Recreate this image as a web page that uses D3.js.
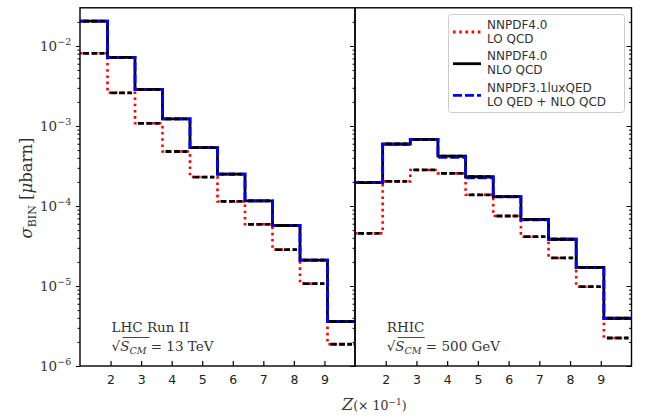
<!DOCTYPE html>
<html>
<head>
<meta charset="utf-8">
<script src="https://cdn.jsdelivr.net/npm/d3@7"></script>
<style>
  body { margin: 0; background: #fff; }
</style>
</head>
<body>
<div id="chart"></div>
<script>
// Bin edges in z (x 10^-1)
var edges = [1, 1.9, 2.8, 3.7, 4.6, 5.5, 6.4, 7.3, 8.2, 9.1, 10];

// LHC Run II, 13 TeV
var lhcLO  = [8.1e-3, 2.6e-3, 1.08e-3, 4.8e-4, 2.3e-4, 1.14e-4, 5.9e-5, 2.85e-5, 1.07e-5, 1.87e-6];
var lhcNLO = [2.04e-2, 7.2e-3, 2.87e-3, 1.23e-3, 5.35e-4, 2.5e-4, 1.16e-4, 5.7e-5, 2.11e-5, 3.6e-6];
var lhcQED = [2.04e-2, 7.2e-3, 2.87e-3, 1.23e-3, 5.35e-4, 2.5e-4, 1.16e-4, 5.7e-5, 2.11e-5, 3.6e-6];

// RHIC, 500 GeV
var rhicLO  = [4.55e-5, 2.03e-4, 2.82e-4, 2.56e-4, 1.38e-4, 7.5e-5, 4.13e-5, 2.24e-5, 9.8e-6, 2.24e-6];
var rhicNLO = [1.96e-4, 5.95e-4, 6.8e-4, 4.2e-4, 2.32e-4, 1.31e-4, 6.8e-5, 3.84e-5, 1.71e-5, 3.95e-6];
var rhicQED = [1.96e-4, 5.9e-4, 6.75e-4, 4.05e-4, 2.25e-4, 1.3e-4, 6.7e-5, 3.84e-5, 1.7e-5, 3.9e-6];

var xTicks = [2, 3, 4, 5, 6, 7, 8, 9];
var yDecades = [1e-6, 1e-5, 1e-4, 1e-3, 1e-2];
var yExps = ["\u22126", "\u22125", "\u22124", "\u22123", "\u22122"];

var legendTop = ["NNPDF4.0", "NNPDF4.0", "NNPDF3.1luxQED"];
var legendBottom = ["LO QCD", "NLO QCD", "LO QED + NLO QCD"];

var svgWidth = 647;
var svgHeight = 418;
var plotTop = 7.8, plotBottom = 366;

var svg = d3.select("#chart")
  .append("svg")
  .attr("width", svgWidth)
  .attr("height", svgHeight)
  .style("font-family", "DejaVu Sans, sans-serif");

var yScale = d3.scaleLog()
  .domain([1e-6, 0.03])
  .range([plotBottom, plotTop]);

var panels = [
  {x0: 80, x1: 355, lo: lhcLO, nlo: lhcNLO, qed: lhcQED, name: "LHC Run II", energy: "13 TeV"},
  {x0: 355, x1: 631.5, lo: rhicLO, nlo: rhicNLO, qed: rhicQED, name: "RHIC", energy: "500 GeV"}
];

var minorTicks = [];
yDecades.forEach(function(d) {
  for (var k = 2; k <= 9; k++) {
    if (d * k < 0.03) minorTicks.push(d * k);
  }
});

panels.forEach(function(p, pi) {
  var xScale = d3.scaleLinear().domain([1, 10]).range([p.x0, p.x1]);

  var g = svg.append("g");

  function stepPath(vals) {
    var pts = edges.map(function(e, i) {
      return [e, vals[Math.min(i, vals.length - 1)]];
    });
    return d3.line()
      .x(d => xScale(d[0]))
      .y(d => yScale(d[1]))
      .curve(d3.curveStepAfter)(pts);
  }

  // LO QCD, red dotted
  g.append("path")
    .attr("d", stepPath(p.lo))
    .attr("fill", "none")
    .attr("stroke", "#ff0000")
    .attr("stroke-width", 2.6)
    .attr("stroke-dasharray", "2.6,3.6");

  // NLO QCD, black solid
  g.append("path")
    .attr("d", stepPath(p.nlo))
    .attr("fill", "none")
    .attr("stroke", "#000")
    .attr("stroke-width", 2.8);

  // LO QED + NLO QCD, blue dashed
  g.append("path")
    .attr("d", stepPath(p.qed))
    .attr("fill", "none")
    .attr("stroke", "#0000ff")
    .attr("stroke-width", 2.8)
    .attr("stroke-dasharray", "9,3");

  // black dashed bin markers on top of each bin
  [p.lo, p.nlo].forEach(function(vals) {
    g.selectAll(null)
      .data(vals)
      .enter()
      .append("line")
      .attr("x1", (d, i) => xScale(edges[i]) + 3)
      .attr("x2", (d, i) => xScale(edges[i + 1]) - 3)
      .attr("y1", d => yScale(d))
      .attr("y2", d => yScale(d))
      .attr("stroke", "#000")
      .attr("stroke-width", 2.8)
      .attr("stroke-dasharray", "6,2.5");
  });

  // frame
  g.append("rect")
    .attr("x", p.x0)
    .attr("y", plotTop)
    .attr("width", p.x1 - p.x0)
    .attr("height", plotBottom - plotTop)
    .attr("fill", "none")
    .attr("stroke", "#000")
    .attr("stroke-width", 1.4);

  // x axis, ticks inward
  var xAxis = g.append("g")
    .attr("transform", `translate(0, ${plotBottom})`)
    .call(d3.axisBottom(xScale).tickValues(xTicks).tickSize(-5).tickPadding(9).tickFormat(d3.format("d")));
  xAxis.select(".domain").remove();
  xAxis.selectAll("line").attr("stroke-width", 1.2);
  xAxis.selectAll("text")
    .style("font-family", "DejaVu Sans, sans-serif")
    .style("font-size", "12.5px")
    .attr("fill", "#222");

  // right spine, ticks inward
  var rAxis = g.append("g").attr("transform", `translate(${p.x1}, 0)`);
  rAxis.append("g").call(d3.axisLeft(yScale).tickValues(yDecades).tickSize(5).tickFormat(""));
  rAxis.append("g").call(d3.axisLeft(yScale).tickValues(minorTicks).tickSize(2.5).tickFormat(""));
  rAxis.selectAll(".domain").remove();
  rAxis.selectAll("line").attr("stroke-width", 1);

  // annotation
  var ax = xScale(2) + 1;
  g.append("text")
    .attr("x", ax)
    .attr("y", 332)
    .style("font-family", "DejaVu Serif, serif")
    .style("font-size", "13.5px")
    .attr("fill", "#333")
    .text(p.name);
  var t = g.append("text")
    .attr("x", ax)
    .attr("y", 351)
    .style("font-family", "DejaVu Serif, serif")
    .style("font-size", "13.5px")
    .attr("fill", "#333");
  t.append("tspan").text("\u221A");
  t.append("tspan").attr("font-style", "italic").text("S");
  t.append("tspan").attr("font-style", "italic").attr("font-size", "9.5px").attr("dy", 3).text("CM");
  t.append("tspan").attr("dy", -3).text(" = " + p.energy);
  g.append("line")
    .attr("x1", ax + 11)
    .attr("x2", ax + 38)
    .attr("y1", 337.5)
    .attr("y2", 337.5)
    .attr("stroke", "#333")
    .attr("stroke-width", 0.9);
});

// left spine of left panel, ticks outward with labels
var lAxis = svg.append("g").attr("transform", "translate(80, 0)");
lAxis.append("g").call(d3.axisLeft(yScale).tickValues(yDecades).tickSize(4).tickFormat(""));
lAxis.append("g").call(d3.axisLeft(yScale).tickValues(minorTicks).tickSize(2.5).tickFormat(""));
lAxis.selectAll(".domain").remove();
lAxis.selectAll("line").attr("stroke-width", 1);

var yLabels = svg.append("g")
  .style("font-family", "DejaVu Serif, serif")
  .attr("fill", "#333");
yDecades.forEach(function(d, i) {
  var tx = yLabels.append("text")
    .attr("x", 40)
    .attr("y", yScale(d) + 5)
    .style("font-size", "13.5px");
  tx.append("tspan").text("10");
  tx.append("tspan").attr("dy", -6).style("font-size", "9.5px").text(yExps[i]);
});

// y label
var yl = svg.append("text")
  .attr("transform", "translate(32, 188) rotate(-90)")
  .attr("text-anchor", "middle")
  .style("font-family", "DejaVu Serif, serif")
  .style("font-size", "16.5px")
  .attr("fill", "#333");
yl.append("tspan").attr("font-style", "italic").text("\u03C3");
yl.append("tspan").attr("dy", 4).style("font-size", "11px").text("BIN");
yl.append("tspan").attr("dy", -4).text(" [");
yl.append("tspan").attr("font-style", "italic").text("\u03BC");
yl.append("tspan").text("barn]");

// x label
var xl = svg.append("text")
  .attr("x", 342)
  .attr("y", 410)
  .style("font-family", "DejaVu Serif, serif")
  .style("font-size", "16px")
  .attr("fill", "#333");
xl.append("tspan").attr("font-style", "italic").text("Z");
xl.append("tspan").style("font-size", "12.5px").text("(\u00D7 10");
xl.append("tspan").attr("dy", -5).style("font-size", "9px").text("\u22121");
xl.append("tspan").attr("dy", 5).style("font-size", "12.5px").text(")");

// legend
var legend = svg.append("g");
legend.append("rect")
  .attr("x", 448.5)
  .attr("y", 14.5)
  .attr("width", 176)
  .attr("height", 98)
  .attr("rx", 3)
  .attr("fill", "#fff")
  .attr("fill-opacity", 0.8)
  .attr("stroke", "#ccc")
  .attr("stroke-width", 1);

var legendStyles = [
  {color: "#ff0000", dash: "2.6,3.6"},
  {color: "#000", dash: null},
  {color: "#0000ff", dash: "9,3"}
];

legendTop.forEach(function(label, i) {
  var cy = 32 + i * 31.7;
  legend.append("line")
    .attr("x1", 453)
    .attr("x2", 481)
    .attr("y1", cy)
    .attr("y2", cy)
    .attr("stroke", legendStyles[i].color)
    .attr("stroke-width", 2.8)
    .attr("stroke-dasharray", legendStyles[i].dash);
  legend.append("text")
    .attr("x", 487)
    .attr("y", cy - 3.5)
    .style("font-size", "12px")
    .attr("fill", "#333")
    .text(label);
  legend.append("text")
    .attr("x", 487)
    .attr("y", cy + 10.5)
    .style("font-size", "12px")
    .attr("fill", "#333")
    .text(legendBottom[i]);
});
</script>
</body>
</html>
